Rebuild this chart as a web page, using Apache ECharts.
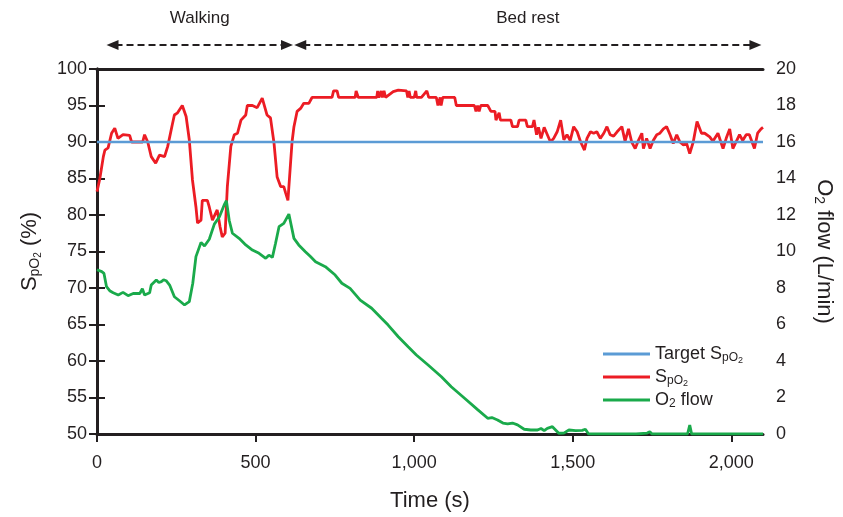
<!DOCTYPE html>
<html>
<head>
<meta charset="utf-8">
<script src="https://cdn.jsdelivr.net/npm/echarts@6/dist/echarts.min.js"></script>
<style>
  html, body { margin: 0; padding: 0; background: #fff; }
  #main { width: 843px; height: 517px; }
</style>
</head>
<body>
<div id="main"></div>
<script>
// 时间轴刻度
var xTicks = [0, 500, 1000, 1500, 2000];

// SpO2 (%), 左轴
var spo2Time = [0, 9, 20, 25, 35, 46, 56, 66, 82, 103, 109, 144, 150, 160, 171, 185, 197, 213, 223, 237, 244, 254, 269, 281, 291, 301, 312, 317, 328, 332, 348, 354, 364, 379, 388, 395, 404, 411, 422, 433, 443, 454, 469, 474, 490, 505, 521, 536, 547, 558, 568, 579, 589, 595, 602, 606, 615, 621, 631, 642, 652, 668, 678, 741, 746, 757, 762, 814, 817, 821, 824, 882, 885, 889, 896, 900, 905, 910, 934, 950, 976, 980, 984, 988, 1000, 1005, 1008, 1023, 1040, 1046, 1070, 1075, 1082, 1085, 1090, 1128, 1133, 1190, 1195, 1200, 1205, 1210, 1232, 1242, 1255, 1258, 1263, 1268, 1272, 1284, 1305, 1310, 1326, 1331, 1352, 1357, 1373, 1378, 1386, 1392, 1400, 1410, 1420, 1430, 1440, 1451, 1462, 1472, 1482, 1492, 1503, 1514, 1525, 1537, 1545, 1556, 1566, 1576, 1587, 1598, 1608, 1618, 1629, 1640, 1655, 1665, 1676, 1686, 1697, 1707, 1718, 1723, 1733, 1744, 1754, 1765, 1775, 1786, 1796, 1807, 1817, 1828, 1838, 1849, 1859, 1869, 1880, 1892, 1897, 1906, 1916, 1932, 1942, 1958, 1974, 1984, 1995, 2005, 2016, 2026, 2036, 2047, 2057, 2073, 2083, 2094, 2100];
var spo2Values = [83.2, 85, 88, 88.9, 89.2, 91.2, 91.9, 90.5, 91, 90.9, 90, 90, 91, 90, 88, 87.1, 88.2, 88, 89.4, 92.3, 93.7, 94, 95, 93.5, 90.3, 84.8, 81.1, 78.9, 79.3, 82, 82, 81.1, 79.3, 80.7, 78.4, 77, 77.5, 83.9, 89.4, 91, 91.2, 93, 93.7, 95, 95, 94.7, 96, 93.7, 93.3, 89.9, 85.2, 83.9, 83.9, 83, 82, 82, 90, 92.1, 94.2, 94.6, 95.3, 95.3, 96.1, 96.1, 97, 97, 96.1, 96.1, 97, 97, 96.1, 96.1, 97, 96.1, 97, 96.1, 97, 96.1, 96.9, 97.1, 97, 96.1, 97, 96.1, 96.1, 97, 96.1, 96.1, 97, 96.1, 96.1, 95, 96.1, 95, 96.1, 96.1, 95, 95, 94.2, 95, 94.2, 95, 95, 94.2, 94.2, 93, 93, 94, 93, 93, 93, 92.1, 92.1, 93, 93, 92.1, 92.1, 93, 91, 92, 90.5, 92, 91, 90, 90.5, 91.4, 93, 90.3, 91, 90.2, 92.1, 91.4, 90, 88.9, 90.5, 91.4, 91.2, 91.4, 90.5, 91.2, 92.1, 91, 90.8, 91.4, 92.1, 90.1, 91.8, 90, 89.1, 90.2, 91.2, 89.1, 90.5, 89.1, 90.2, 91, 91.2, 91.8, 92.1, 91, 89.8, 91, 90, 89.6, 89.8, 88.4, 90, 92.8, 93, 91.2, 91.2, 90.7, 90.1, 91.2, 89.1, 90.5, 91.8, 89.1, 90.1, 91, 90.2, 91, 91, 89.1, 91.2, 91.8, 92];

// 目标 SpO2
var targetTime = [0, 2100];
var targetValues = [90, 90];

// O2 流量 (L/min), 右轴
var flowTime = [0, 4, 15, 22, 30, 40, 51, 67, 82, 98, 114, 135, 143, 150, 166, 171, 187, 195, 203, 210, 218, 229, 244, 260, 276, 291, 302, 312, 328, 339, 354, 370, 386, 401, 408, 417, 427, 448, 469, 490, 511, 532, 542, 553, 563, 574, 589, 605, 621, 636, 657, 673, 689, 720, 751, 772, 798, 830, 866, 897, 918, 950, 981, 1007, 1044, 1086, 1117, 1159, 1201, 1232, 1245, 1263, 1280, 1295, 1310, 1326, 1347, 1368, 1389, 1400, 1410, 1420, 1436, 1456, 1472, 1488, 1509, 1530, 1540, 1550, 1700, 1735, 1743, 1750, 1862, 1869, 1875, 2100];
var flowValues = [9.0, 8.95, 8.9, 8.8, 8.07, 7.85, 7.74, 7.62, 7.76, 7.58, 7.7, 7.7, 7.96, 7.62, 7.74, 8.16, 8.44, 8.3, 8.35, 8.45, 8.4, 8.16, 7.52, 7.3, 7.07, 7.25, 8.26, 9.72, 10.5, 10.3, 10.67, 11.5, 11.9, 12.55, 12.78, 11.7, 11.0, 10.72, 10.36, 10.08, 9.9, 9.63, 9.8, 9.68, 10.45, 11.36, 11.54, 12.05, 10.72, 10.36, 9.99, 9.72, 9.44, 9.17, 8.71, 8.26, 7.98, 7.34, 6.89, 6.34, 5.97, 5.33, 4.78, 4.33, 3.78, 3.14, 2.59, 1.96, 1.32, 0.86, 0.9, 0.77, 0.6, 0.55, 0.6, 0.5, 0.26, 0.22, 0.22, 0.3, 0.18, 0.31, 0.4, 0.04, 0.05, 0.22, 0.18, 0.2, 0.26, 0, 0, 0.05, 0.13, 0, 0, 0.49, 0, 0];

// 阶段 (walking / bed rest)
var phaseNames = ['Walking', 'Bed rest'];
var phaseStart = [30, 622];
var phaseEnd = [618, 2095];

function pairs(xs, ys) {
    var out = [];
    for (var i = 0; i < xs.length; i++) out.push([xs[i], ys[i]]);
    return out;
}

var FONT = 'Liberation Sans, Arial, Helvetica, sans-serif';
var INK = '#231f20';

var subRich = {
    m: { fontSize: 22, fontFamily: FONT, color: INK, lineHeight: 26 },
    s: { fontSize: 14, fontFamily: FONT, color: INK, padding: [10, 0, 0, 0] },
    s2: { fontSize: 10, fontFamily: FONT, color: INK, padding: [16, 0, 0, 0] },
    lm: { fontSize: 18, fontFamily: FONT, color: INK, lineHeight: 22 },
    ls: { fontSize: 12, fontFamily: FONT, color: INK, padding: [8, 0, 0, 0] },
    ls2: { fontSize: 9, fontFamily: FONT, color: INK, padding: [13, 0, 0, 0] }
};

var legendText = {
    'Target SpO2': '{lm|Target S}{ls|pO}{ls2|2}',
    'SpO2': '{lm|S}{ls|pO}{ls2|2}',
    'O2 flow': '{lm|O}{ls|2}{lm| flow}'
};

var chart = echarts.init(document.getElementById('main'), null, { renderer: 'canvas' });

var option = {
    animation: false,
    backgroundColor: '#fff',
    grid: { left: 97, right: 76, top: 69, bottom: 83 },
    legend: {
        orient: 'vertical',
        left: 598,
        top: 340,
        itemWidth: 47,
        itemHeight: 3,
        itemGap: 3,
        icon: 'rect',
        data: ['Target SpO2', 'SpO2', 'O2 flow'],
        formatter: function (name) { return legendText[name]; },
        textStyle: { rich: subRich }
    },
    xAxis: [{
        type: 'value',
        min: 0,
        max: 2100,
        interval: 500,
        name: 'Time (s)',
        nameLocation: 'middle',
        nameGap: 56,
        nameTextStyle: { fontSize: 22, fontFamily: FONT, color: INK },
        axisLine: { lineStyle: { color: INK, width: 3 } },
        axisTick: { length: 8, lineStyle: { color: INK, width: 2 } },
        axisLabel: {
            fontSize: 18, fontFamily: FONT, color: INK, margin: 20,
            showMaxLabel: false,
            formatter: function (v) { return v.toLocaleString('en-US'); }
        },
        splitLine: { show: false }
    }, {
        type: 'value',
        position: 'top',
        min: 0,
        max: 2100,
        axisLine: { show: true, lineStyle: { color: INK, width: 3 } },
        axisTick: { show: false },
        axisLabel: { show: false },
        splitLine: { show: false }
    }],
    yAxis: [{
        type: 'value',
        min: 50,
        max: 100,
        interval: 5,
        name: '{m|S}{s|pO}{s2|2}{m| (%)}',
        nameLocation: 'middle',
        nameRotate: 90,
        nameGap: 54,
        nameTextStyle: { rich: subRich },
        axisLine: { show: true, lineStyle: { color: INK, width: 3 } },
        axisTick: { length: 8, lineStyle: { color: INK, width: 2 } },
        axisLabel: { fontSize: 18, fontFamily: FONT, color: INK, margin: 10 },
        splitLine: { show: false }
    }, {
        type: 'value',
        min: 0,
        max: 20,
        interval: 2,
        position: 'right',
        name: '{m|O}{s|2}{m| flow (L/min)}',
        nameLocation: 'middle',
        nameRotate: -90,
        nameGap: 48,
        nameTextStyle: { rich: subRich },
        axisLine: { show: true, lineStyle: { color: INK, width: 3 } },
        axisTick: { length: 8, lineStyle: { color: INK, width: 2 } },
        axisLabel: { fontSize: 18, fontFamily: FONT, color: INK, margin: 13 },
        splitLine: { show: false }
    }],
    series: [{
        name: 'Target SpO2',
        type: 'line',
        yAxisIndex: 0,
        symbol: 'none',
        data: pairs(targetTime, targetValues),
        lineStyle: { color: '#5b9bd5', width: 2.4 },
        itemStyle: { color: '#5b9bd5' },
        z: 3
    }, {
        name: 'SpO2',
        type: 'line',
        yAxisIndex: 0,
        symbol: 'none',
        data: pairs(spo2Time, spo2Values),
        lineStyle: { color: '#ec1c24', width: 2.8 },
        itemStyle: { color: '#ec1c24' },
        z: 2
    }, {
        name: 'O2 flow',
        type: 'line',
        yAxisIndex: 1,
        symbol: 'none',
        data: pairs(flowTime, flowValues),
        lineStyle: { color: '#1aaa4b', width: 2.8 },
        itemStyle: { color: '#1aaa4b' },
        z: 2
    }]
};

chart.setOption(option);

// 顶部阶段箭头
var arrowY = 45;
var graphics = [];
for (var i = 0; i < phaseNames.length; i++) {
    var x0 = chart.convertToPixel({ xAxisIndex: 0 }, phaseStart[i]);
    var x1 = chart.convertToPixel({ xAxisIndex: 0 }, phaseEnd[i]);
    graphics.push({
        type: 'line',
        shape: { x1: x0 + 9, y1: arrowY, x2: x1 - 9, y2: arrowY },
        style: { stroke: INK, lineWidth: 2, lineDash: [7, 4] }
    });
    graphics.push({
        type: 'polygon',
        shape: { points: [[x0, arrowY], [x0 + 12, arrowY - 5], [x0 + 12, arrowY + 5]] },
        style: { fill: INK }
    });
    graphics.push({
        type: 'polygon',
        shape: { points: [[x1, arrowY], [x1 - 12, arrowY - 5], [x1 - 12, arrowY + 5]] },
        style: { fill: INK }
    });
    graphics.push({
        type: 'text',
        x: (x0 + x1) / 2,
        y: 18,
        style: {
            text: phaseNames[i], fontSize: 17, fontFamily: FONT, fill: INK,
            align: 'center', verticalAlign: 'middle'
        }
    });
}
chart.setOption({ graphic: graphics });
</script>
</body>
</html>
